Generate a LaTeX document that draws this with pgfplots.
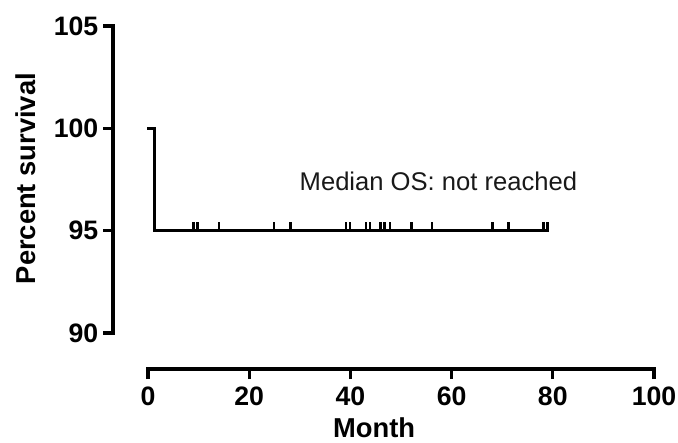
\documentclass[border=0pt]{standalone}
\usepackage{pgfplots}
\pgfplotsset{compat=1.18}
\usepackage{fontspec}
\setmainfont{Liberation Sans}

% censoring mark: short upward stroke
\pgfdeclareplotmark{cens}{%
  \pgfpathmoveto{\pgfpoint{0pt}{0pt}}%
  \pgfpathlineto{\pgfpoint{0pt}{6.5pt}}%
  \pgfusepathqstroke}

\begin{document}
\begin{tikzpicture}
\begin{axis}[
  x=3.795pt, y=15.3525pt,
  xmin=0, xmax=100, ymin=90, ymax=105,
  axis x line*=bottom, axis y line*=left,
  axis x line shift=27pt, axis y line shift=26.25pt,
  axis line style={-, line width=2.4pt, line cap=rect},
  xtick={0,20,...,100}, ytick={90,95,100,105},
  tick align=outside, tick style={line width=2.4pt, black},
  major tick length=7.5pt,
  /pgf/number format/assume math mode=true,
  ticklabel style={font=\fontsize{20}{22}\selectfont\bfseries},
  xticklabel style={yshift=-2pt},
  xlabel={Month}, ylabel={Percent survival},
  xlabel style={font=\fontsize{20.5}{22}\selectfont\bfseries, at={(rel axis cs:0.447,-0.340)}, anchor=base},
  ylabel style={font=\fontsize{20.5}{22}\selectfont\bfseries, at={(rel axis cs:-0.241,0.503)}, anchor=center},
  clip=false,
]
% Kaplan-Meier curve
\addplot[const plot, line width=2.2pt, line cap=rect, black] coordinates {
  (0,100)(1.3,95)(79,95)
};
% censored observations
\addplot[only marks, mark=cens, mark options={line width=2pt, black}] coordinates {
  (9.0,95)(9.8,95)(14.0,95)(24.9,95)(28.1,95)(39.1,95)(39.9,95)
  (43.1,95)(43.9,95)(46.0,95)(46.7,95)(47.8,95)(52.1,95)(56.1,95)
  (68.1,95)(71.2,95)(78.1,95)(78.9,95)
};
\node[anchor=base, font=\fontsize{19.2}{21}\selectfont, text=black!90] at (axis cs:57.4,96.95) {Median OS: not reached};
\coordinate (bbll) at (axis cs:-29.25,84.63);
\coordinate (bbur) at (axis cs:104.74,106.27);
\end{axis}
\pgfresetboundingbox
\path[use as bounding box] (bbll) rectangle (bbur);
\end{tikzpicture}
\end{document}
